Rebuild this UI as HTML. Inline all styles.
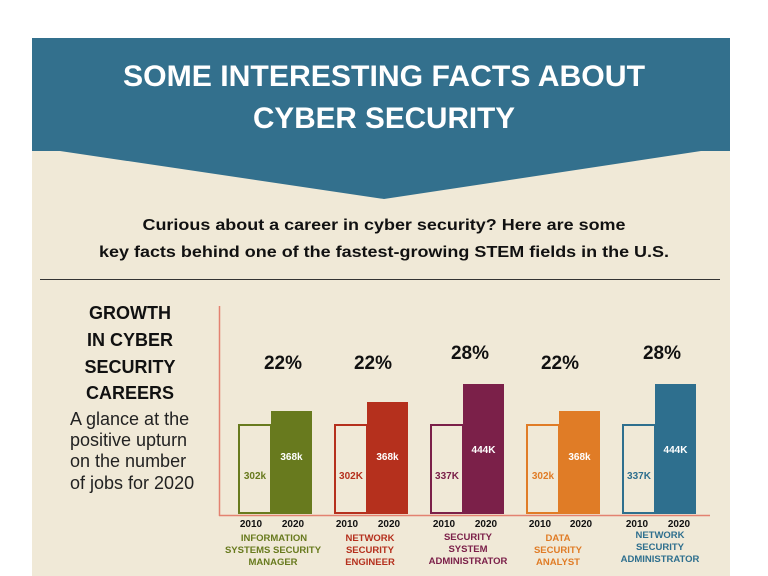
<!DOCTYPE html>
<html><head><meta charset="utf-8"><style>
html,body{margin:0;padding:0;background:#fff;}
body{width:768px;height:576px;overflow:hidden;position:relative;font-family:"Liberation Sans",sans-serif;}
svg{position:absolute;left:0;top:0;}
</style></head><body>
<svg width="768" height="576" viewBox="0 0 768 576" xmlns="http://www.w3.org/2000/svg" font-family="Liberation Sans, sans-serif">
<rect x="32" y="38" width="698" height="538" fill="#f0e9d7"/>
<polygon points="32,38 730,38 730,151 701,151 384,199 60,151 32,151" fill="#33708d"/>
<text x="384" y="86" font-size="30" font-weight="bold" fill="#fff" text-anchor="middle" textLength="522" lengthAdjust="spacingAndGlyphs">SOME INTERESTING FACTS ABOUT</text>
<text x="384" y="128" font-size="30" font-weight="bold" fill="#fff" text-anchor="middle" textLength="262" lengthAdjust="spacingAndGlyphs">CYBER SECURITY</text>
<text x="384" y="230" font-size="16" font-weight="bold" fill="#111" text-anchor="middle" textLength="483" lengthAdjust="spacingAndGlyphs">Curious about a career in cyber security? Here are some</text>
<text x="384" y="257" font-size="16" font-weight="bold" fill="#111" text-anchor="middle" textLength="570" lengthAdjust="spacingAndGlyphs">key facts behind one of the fastest-growing STEM fields in the U.S.</text>
<line x1="40" y1="279.5" x2="720" y2="279.5" stroke="#333" stroke-width="1"/>
<g font-size="18" font-weight="bold" fill="#111" text-anchor="middle">
<text x="130" y="319">GROWTH</text>
<text x="130" y="346">IN CYBER</text>
<text x="130" y="373">SECURITY</text>
<text x="130" y="399">CAREERS</text>
</g>
<g font-size="18" fill="#222">
<text x="70" y="425">A glance at the</text>
<text x="70" y="446">positive upturn</text>
<text x="70" y="467">on the number</text>
<text x="70" y="489">of jobs for 2020</text>
</g>
<line x1="219.5" y1="306" x2="219.5" y2="516" stroke="#e38270" stroke-width="1.5"/>
<line x1="219" y1="515.5" x2="710" y2="515.5" stroke="#e38270" stroke-width="1.5"/>
<!-- group 1 -->
<rect x="239" y="425" width="32" height="88" fill="#f0e9d7" stroke="#687a1e" stroke-width="2"/>
<rect x="271" y="411" width="41" height="103" fill="#687a1e"/>
<!-- group 2 -->
<rect x="335" y="425" width="32" height="88" fill="#f0e9d7" stroke="#b5301d" stroke-width="2"/>
<rect x="367" y="402" width="41" height="112" fill="#b5301d"/>
<!-- group 3 -->
<rect x="431" y="425" width="32" height="88" fill="#f0e9d7" stroke="#7b2049" stroke-width="2"/>
<rect x="463" y="384" width="41" height="130" fill="#7b2049"/>
<!-- group 4 -->
<rect x="527" y="425" width="32" height="88" fill="#f0e9d7" stroke="#e07c26" stroke-width="2"/>
<rect x="559" y="411" width="41" height="103" fill="#e07c26"/>
<!-- group 5 -->
<rect x="623" y="425" width="32" height="88" fill="#f0e9d7" stroke="#2e6f8e" stroke-width="2"/>
<rect x="655" y="384" width="41" height="130" fill="#2e6f8e"/>
<g font-size="19" font-weight="bold" fill="#111" text-anchor="middle">
<text x="283" y="369">22%</text>
<text x="373" y="369">22%</text>
<text x="470" y="359">28%</text>
<text x="560" y="369">22%</text>
<text x="662" y="359">28%</text>
</g>
<g font-size="10" font-weight="bold" text-anchor="middle">
<text x="255" y="479" fill="#687a1e">302k</text>
<text x="291.5" y="460" fill="#fff">368k</text>
<text x="351" y="479" fill="#b5301d">302K</text>
<text x="387.5" y="460" fill="#fff">368k</text>
<text x="447" y="479" fill="#7b2049">337K</text>
<text x="483.5" y="453" fill="#fff">444K</text>
<text x="543" y="479" fill="#e07c26">302k</text>
<text x="579.5" y="460" fill="#fff">368k</text>
<text x="639" y="479" fill="#2e6f8e">337K</text>
<text x="675.5" y="453" fill="#fff">444K</text>
</g>
<g font-size="10" font-weight="bold" fill="#111" text-anchor="middle">
<text x="251" y="527">2010</text><text x="293" y="527">2020</text>
<text x="347" y="527">2010</text><text x="389" y="527">2020</text>
<text x="444" y="527">2010</text><text x="486" y="527">2020</text>
<text x="540" y="527">2010</text><text x="581" y="527">2020</text>
<text x="637" y="527">2010</text><text x="679" y="527">2020</text>
</g>
<g font-size="9.5" font-weight="bold" text-anchor="middle">
<text x="274" y="541" fill="#687a1e">INFORMATION</text>
<text x="273" y="553" fill="#687a1e">SYSTEMS SECURITY</text>
<text x="273" y="565" fill="#687a1e">MANAGER</text>
<text x="370" y="541" fill="#b5301d">NETWORK</text>
<text x="370" y="553" fill="#b5301d">SECURITY</text>
<text x="370" y="565" fill="#b5301d">ENGINEER</text>
<text x="468" y="540" fill="#7b2049">SECURITY</text>
<text x="468" y="552" fill="#7b2049">SYSTEM</text>
<text x="468" y="564" fill="#7b2049">ADMINISTRATOR</text>
<text x="558" y="541" fill="#e07c26">DATA</text>
<text x="558" y="553" fill="#e07c26">SECURITY</text>
<text x="558" y="565" fill="#e07c26">ANALYST</text>
<text x="660" y="538" fill="#2e6f8e">NETWORK</text>
<text x="660" y="550" fill="#2e6f8e">SECURITY</text>
<text x="660" y="562" fill="#2e6f8e">ADMINISTRATOR</text>
</g>
</svg>
</body></html>
